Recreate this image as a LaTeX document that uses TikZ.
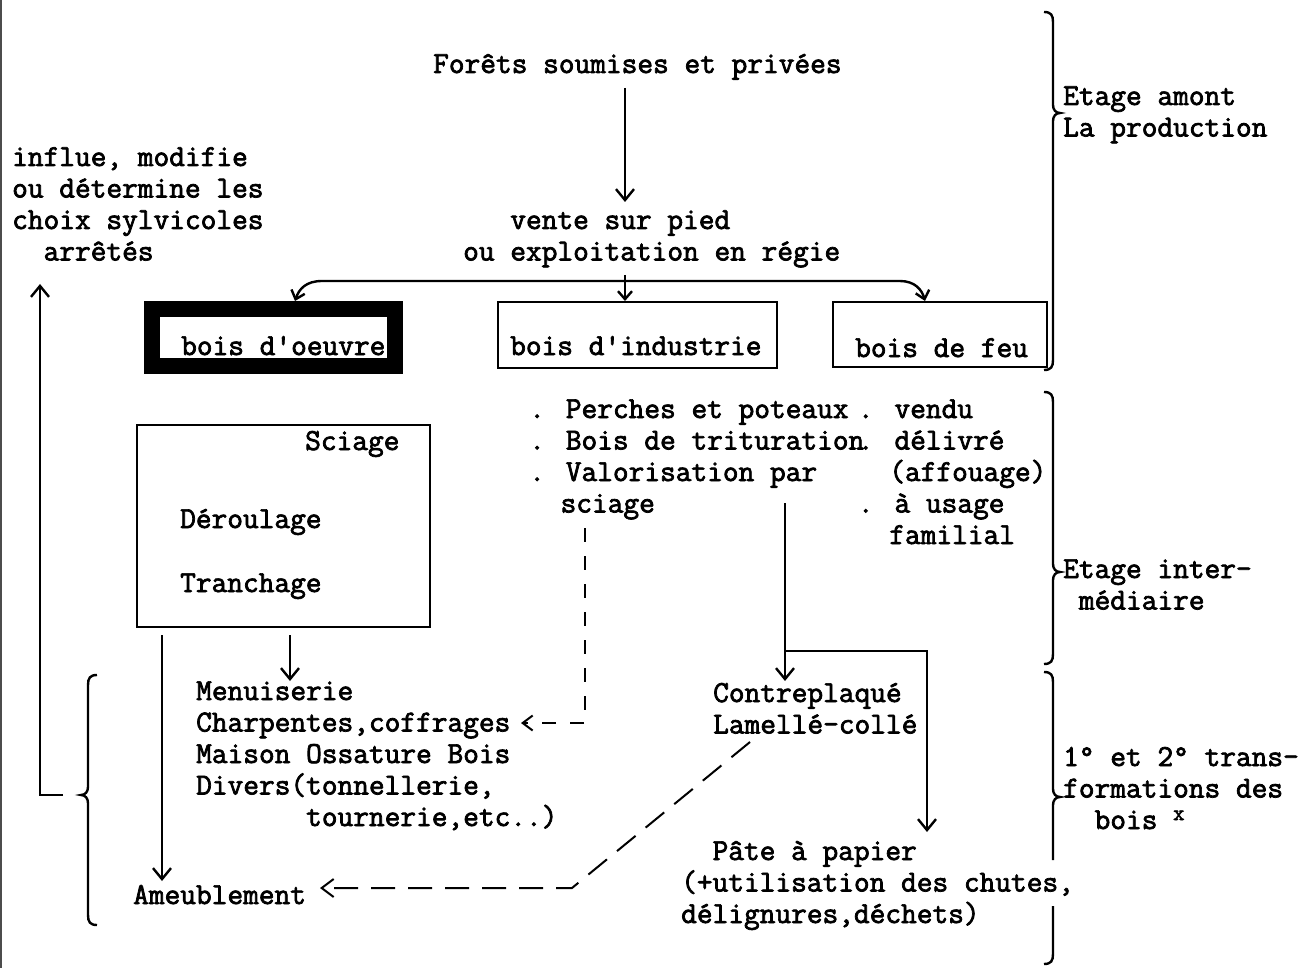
\documentclass[tikz,border=0pt]{standalone}
\usepackage{fontspec}
\newfontfamily\tw[FakeBold=2.4]{Latin Modern Mono}
\usetikzlibrary{arrows.meta}
\newcommand\myrbrace[4]{\draw[lw] (#1-9,#2) .. controls (#1-2,#2) and (#1,#2+3) .. (#1,#2+10) -- (#1,#3-8) .. controls (#1,#3-3) and (#1+3,#3) .. (#1+7,#3) .. controls (#1+3,#3) and (#1,#3+3) .. (#1,#3+8) -- (#1,#4-10) .. controls (#1,#4-3) and (#1-2,#4) .. (#1-9,#4);}
\newcommand\mylbrace[4]{\draw[lw] (#1+9,#2) .. controls (#1+2,#2) and (#1,#2+3) .. (#1,#2+10) -- (#1,#3-8) .. controls (#1,#3-3) and (#1-3,#3) .. (#1-7,#3) .. controls (#1-3,#3) and (#1,#3+3) .. (#1,#3+8) -- (#1,#4-10) .. controls (#1,#4-3) and (#1+2,#4) .. (#1+9,#4);}
\begin{document}
\begin{tikzpicture}[x=1pt,y=-1pt,
  txt/.style={font=\tw\fontsize{30.5}{31.5}\selectfont, inner sep=0pt, anchor=base west, align=left},
  lw/.style={line width=2.4pt},
  box/.style={draw, line width=2.4pt, inner sep=0pt},
  arr/.style={lw, -{Straight Barb[length=11pt,width=18pt,line width=2.4pt]}},
  sarr/.style={lw, -{Straight Barb[length=8pt,width=14pt,line width=2.4pt]}},
  darr/.style={line width=2pt, dash pattern=on 14pt off 14pt, -{Straight Barb[length=10pt,width=15pt,line width=2pt]}},
  darrb/.style={line width=2pt, dash pattern=on 24pt off 13pt, -{Straight Barb[length=12pt,width=18pt,line width=2pt]}}
]
\fill[white] (0,0) rectangle (1301,968);
\useasboundingbox (0,0) rectangle (1301,968);
\draw[line width=1.5pt, black!70] (1,0) -- (1,968);

% texts (multi-line nodes: base anchor = last line)
\node[txt] (forets) at (433,73) {Forêts soumises et privées};
\node[txt] (vente) at (463,260.5) {~~~vente sur pied\\ou exploitation en régie};
\node[txt] (influe) at (12,260.5) {influe, modifie\\ou détermine les\\choix sylvicoles\\~~arrêtés};
\node[txt] (amont) at (1063,136.5) {Etage amont\\La production};

% boxes
\node[draw, line width=16pt, minimum width=243pt, minimum height=57pt, inner sep=0pt] (oeuvre) at (273.5,337.5) {};
\node[txt] (oeuvreT) at (181,355) {bois d'oeuvre};
\node[box, minimum width=279pt, minimum height=66pt] (indus) at (637.5,335) {};
\node[txt] (indusT) at (510,355) {bois d'industrie};
\node[box, minimum width=214pt, minimum height=65pt] (feu) at (940,334.5) {};
\node[txt] (feuT) at (855,357) {bois de feu};

\node[box, minimum width=293pt, minimum height=202pt] (sbox) at (283.5,526) {};
\node[txt] (sciage) at (305,450) {Sciage};
\node[txt] (derou) at (180,528) {Déroulage};
\node[txt] (tranch) at (180,592) {Tranchage};

\node[txt] (indl) at (529,512.5) {. Perches et poteaux\\. Bois de trituration\\. Valorisation par\\~~sciage};
\node[txt] (feul) at (857.7,544) {. vendu\\. délivré\\~~(affouage)\\. à usage\\~~familial};
\node[txt] (inter) at (1063,609.5) {Etage inter-\\~médiaire};

\node[txt] (menu) at (196,826) {Menuiserie\\Charpentes,coffrages\\Maison Ossature Bois\\Divers(tonnellerie,\\~~~~~~~tournerie,etc..)};
\node[txt] (contre) at (713,733.5) {Contreplaqué\\Lamellé-collé};
\node[txt] (transf) at (1063,829) {1° et 2° trans-\\formations des\\~~bois \raisebox{9pt}{\bfseries\fontsize{22}{22}\selectfont x}};
\node[txt] (ameub) at (133,904) {Ameublement};
\node[txt] (pate) at (681,923) {~~Pâte à papier\\(+utilisation des chutes,\\délignures,déchets)};

% connector points
\coordinate (f1) at (625,88);
\coordinate (f2) at (625,202);
\coordinate (J) at (625,281);
\coordinate (Jt) at (625,275);
\coordinate (oe) at (295,301);
\coordinate (in) at (625,301);
\coordinate (fe) at (925,301);
\coordinate (s1) at (290,635);
\coordinate (s2) at (290,681);
\coordinate (s3) at (162,635);
\coordinate (s4) at (162,881);
\coordinate (b1) at (63,795);
\coordinate (b2) at (40,795);
\coordinate (b3) at (40,284);
\coordinate (p1) at (785,503);
\coordinate (p2) at (785,681);
\coordinate (p3) at (785,651);
\coordinate (p4) at (927,651);
\coordinate (p5) at (927,832);
\coordinate (d1) at (585,528);
\coordinate (d2) at (585,723);
\coordinate (d3) at (521,723);
\coordinate (e1) at (750,742);
\coordinate (e2) at (572,888);
\coordinate (e3) at (320,888);

\draw[arr] (f1) -- (f2);
\draw[lw] (Jt) -- (J);
\draw[sarr] (J) -- (322,281) .. controls (306,281) and (299,289) .. (oe);
\draw[sarr] (J) -- (in);
\draw[sarr] (J) -- (900,281) .. controls (915,281) and (922,290) .. (fe);
\draw[arr] (s1) -- (s2);
\draw[arr] (s3) -- (s4);
\draw[arr] (b1) -- (b2) -- (b3);
\draw[arr] (p1) -- (p2);
\draw[arr] (p3) -- (p4) -- (p5);
\draw[darr] (d1) -- (d2) -- (d3);
\draw[darrb] (e1) -- (e2) -- (e3);

% braces
\myrbrace{1053}{12}{113}{370}
\myrbrace{1053}{392}{572}{664}
\draw[lw] (1044,672) .. controls (1051,672) and (1053,675) .. (1053,682) -- (1053,789) .. controls (1053,794) and (1056,797) .. (1060,797) .. controls (1056,797) and (1053,800) .. (1053,805) -- (1053,860);
\draw[lw] (1053,906) -- (1053,954) .. controls (1053,961) and (1051,964) .. (1044,964);
\mylbrace{88}{675}{795}{925}
\end{tikzpicture}
\end{document}
